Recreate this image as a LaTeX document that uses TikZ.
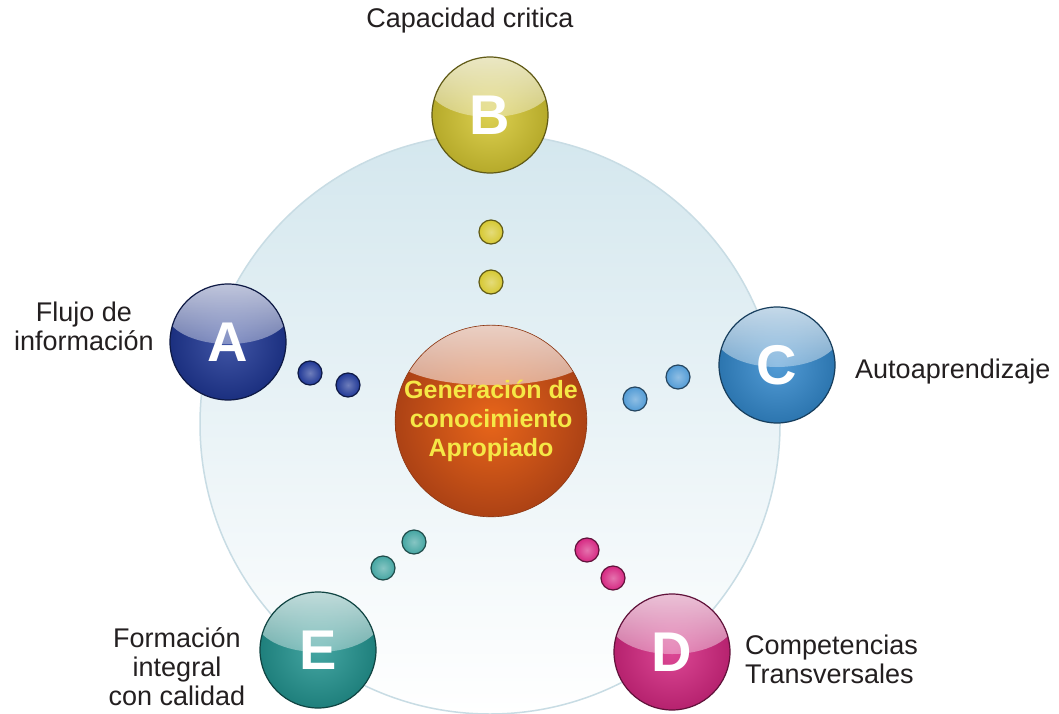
\documentclass[tikz,border=0pt]{standalone}
\usepackage{fontspec}
\setmainfont{Liberation Sans}
\usepackage{tikz}
\usetikzlibrary{positioning, fadings}
\definecolor{ballA}{RGB}{32, 56, 150}
\definecolor{ballB}{RGB}{214, 200, 50}
\definecolor{ballC}{RGB}{52, 138, 206}
\definecolor{ballD}{RGB}{214, 40, 130}
\definecolor{ballE}{RGB}{36, 150, 146}
\definecolor{coreorange}{RGB}{230, 88, 28}
\definecolor{coreyellow}{RGB}{245, 232, 70}
\definecolor{ringblue}{RGB}{212, 231, 238}
\definecolor{ringline}{RGB}{200, 220, 228}
\definecolor{labelgray}{RGB}{35, 31, 32}
\tikzfading[name=glossfade, top color=transparent!25, bottom color=transparent!100]
\tikzset{
    every node/.style={font=\fontsize{27}{29}\selectfont, text=labelgray},
    caption/.style={inner sep=0pt},
    ball/.style={
        circle, inner sep=0pt, minimum size=116pt,
        draw=#1!45!black, line width=1.2pt,
        shading=radial, inner color=#1!85!white, outer color=#1!85!black,
        text=white, font=\fontsize{56}{56}\selectfont\bfseries,
        path picture={\fill [white, path fading=glossfade]
            ([yshift=-28pt]path picture bounding box.north) ellipse [x radius=62pt, y radius=32pt];}
    },
    dot/.style={
        circle, inner sep=0pt, minimum size=24pt,
        draw=#1!45!black, line width=1.2pt,
        shading=radial, inner color=#1!65!white, outer color=#1
    },
    core/.style={
        circle, inner sep=0pt, minimum size=186pt, align=center,
        draw=coreorange!60!black, line width=0.6pt,
        shading=radial, inner color=coreorange!92!yellow, outer color=coreorange!75!black,
        text=coreyellow, font=\fontsize{25}{29}\selectfont\bfseries,
        path picture={\fill [white, path fading=glossfade]
            ([yshift=-30pt]path picture bounding box.north) ellipse [x radius=98pt, y radius=30pt];}
    }
}

\begin{document}
\begin{tikzpicture}[x=1pt, y=-1pt]
    \useasboundingbox [fill=white] (0,0) rectangle (1059,714);

    \node [
        circle, minimum size=580pt,
        draw=ringline, line width=1.5pt,
        top color=ringblue, bottom color=white
    ] (ring) at (490,424) {};

    % centre
    \node [core] (core) at (491,421) {Generaci\'on de\\conocimiento\\Apropiado};

    % outer balls
    \node [ball=ballA] (A) at (228,342) {A};
    \node [ball=ballB] (B) at (490,115) {B};
    \node [ball=ballC] (C) at (777,365) {C};
    \node [ball=ballD] (D) at (672,652) {D};
    \node [ball=ballE] (E) at (318,650) {E};

    % small dots
    \node [dot=ballA] (a1) at (310,373) {};
    \node [dot=ballA] (a2) at (348,385) {};
    \node [dot=ballB] (b1) at (491,232) {};
    \node [dot=ballB] (b2) at (491,282) {};
    \node [dot=ballC!85!white] (c1) at (678,377) {};
    \node [dot=ballC!85!white] (c2) at (635,399) {};
    \node [dot=ballD] (d1) at (587,550) {};
    \node [dot=ballD] (d2) at (613,578) {};
    \node [dot=ballE!85!white] (e1) at (414,542) {};
    \node [dot=ballE!85!white] (e2) at (383,568) {};

    % labels
    \node [caption, anchor=base] (labB) at (470,28) {Capacidad critica};
    \node [caption, anchor=north, align=center] (labA) at (84,302) {Flujo de\\informaci\'on};
    \node [caption, anchor=base west] (labC) at (855,378) {Autoaprendizaje};
    \node [caption, anchor=north west, align=left] (labD) at (745,635) {Competencias\\Transversales};
    \node [caption, anchor=north, align=center] (labE) at (177,627) {Formaci\'on\\integral\\con calidad};
\end{tikzpicture}
\end{document}
